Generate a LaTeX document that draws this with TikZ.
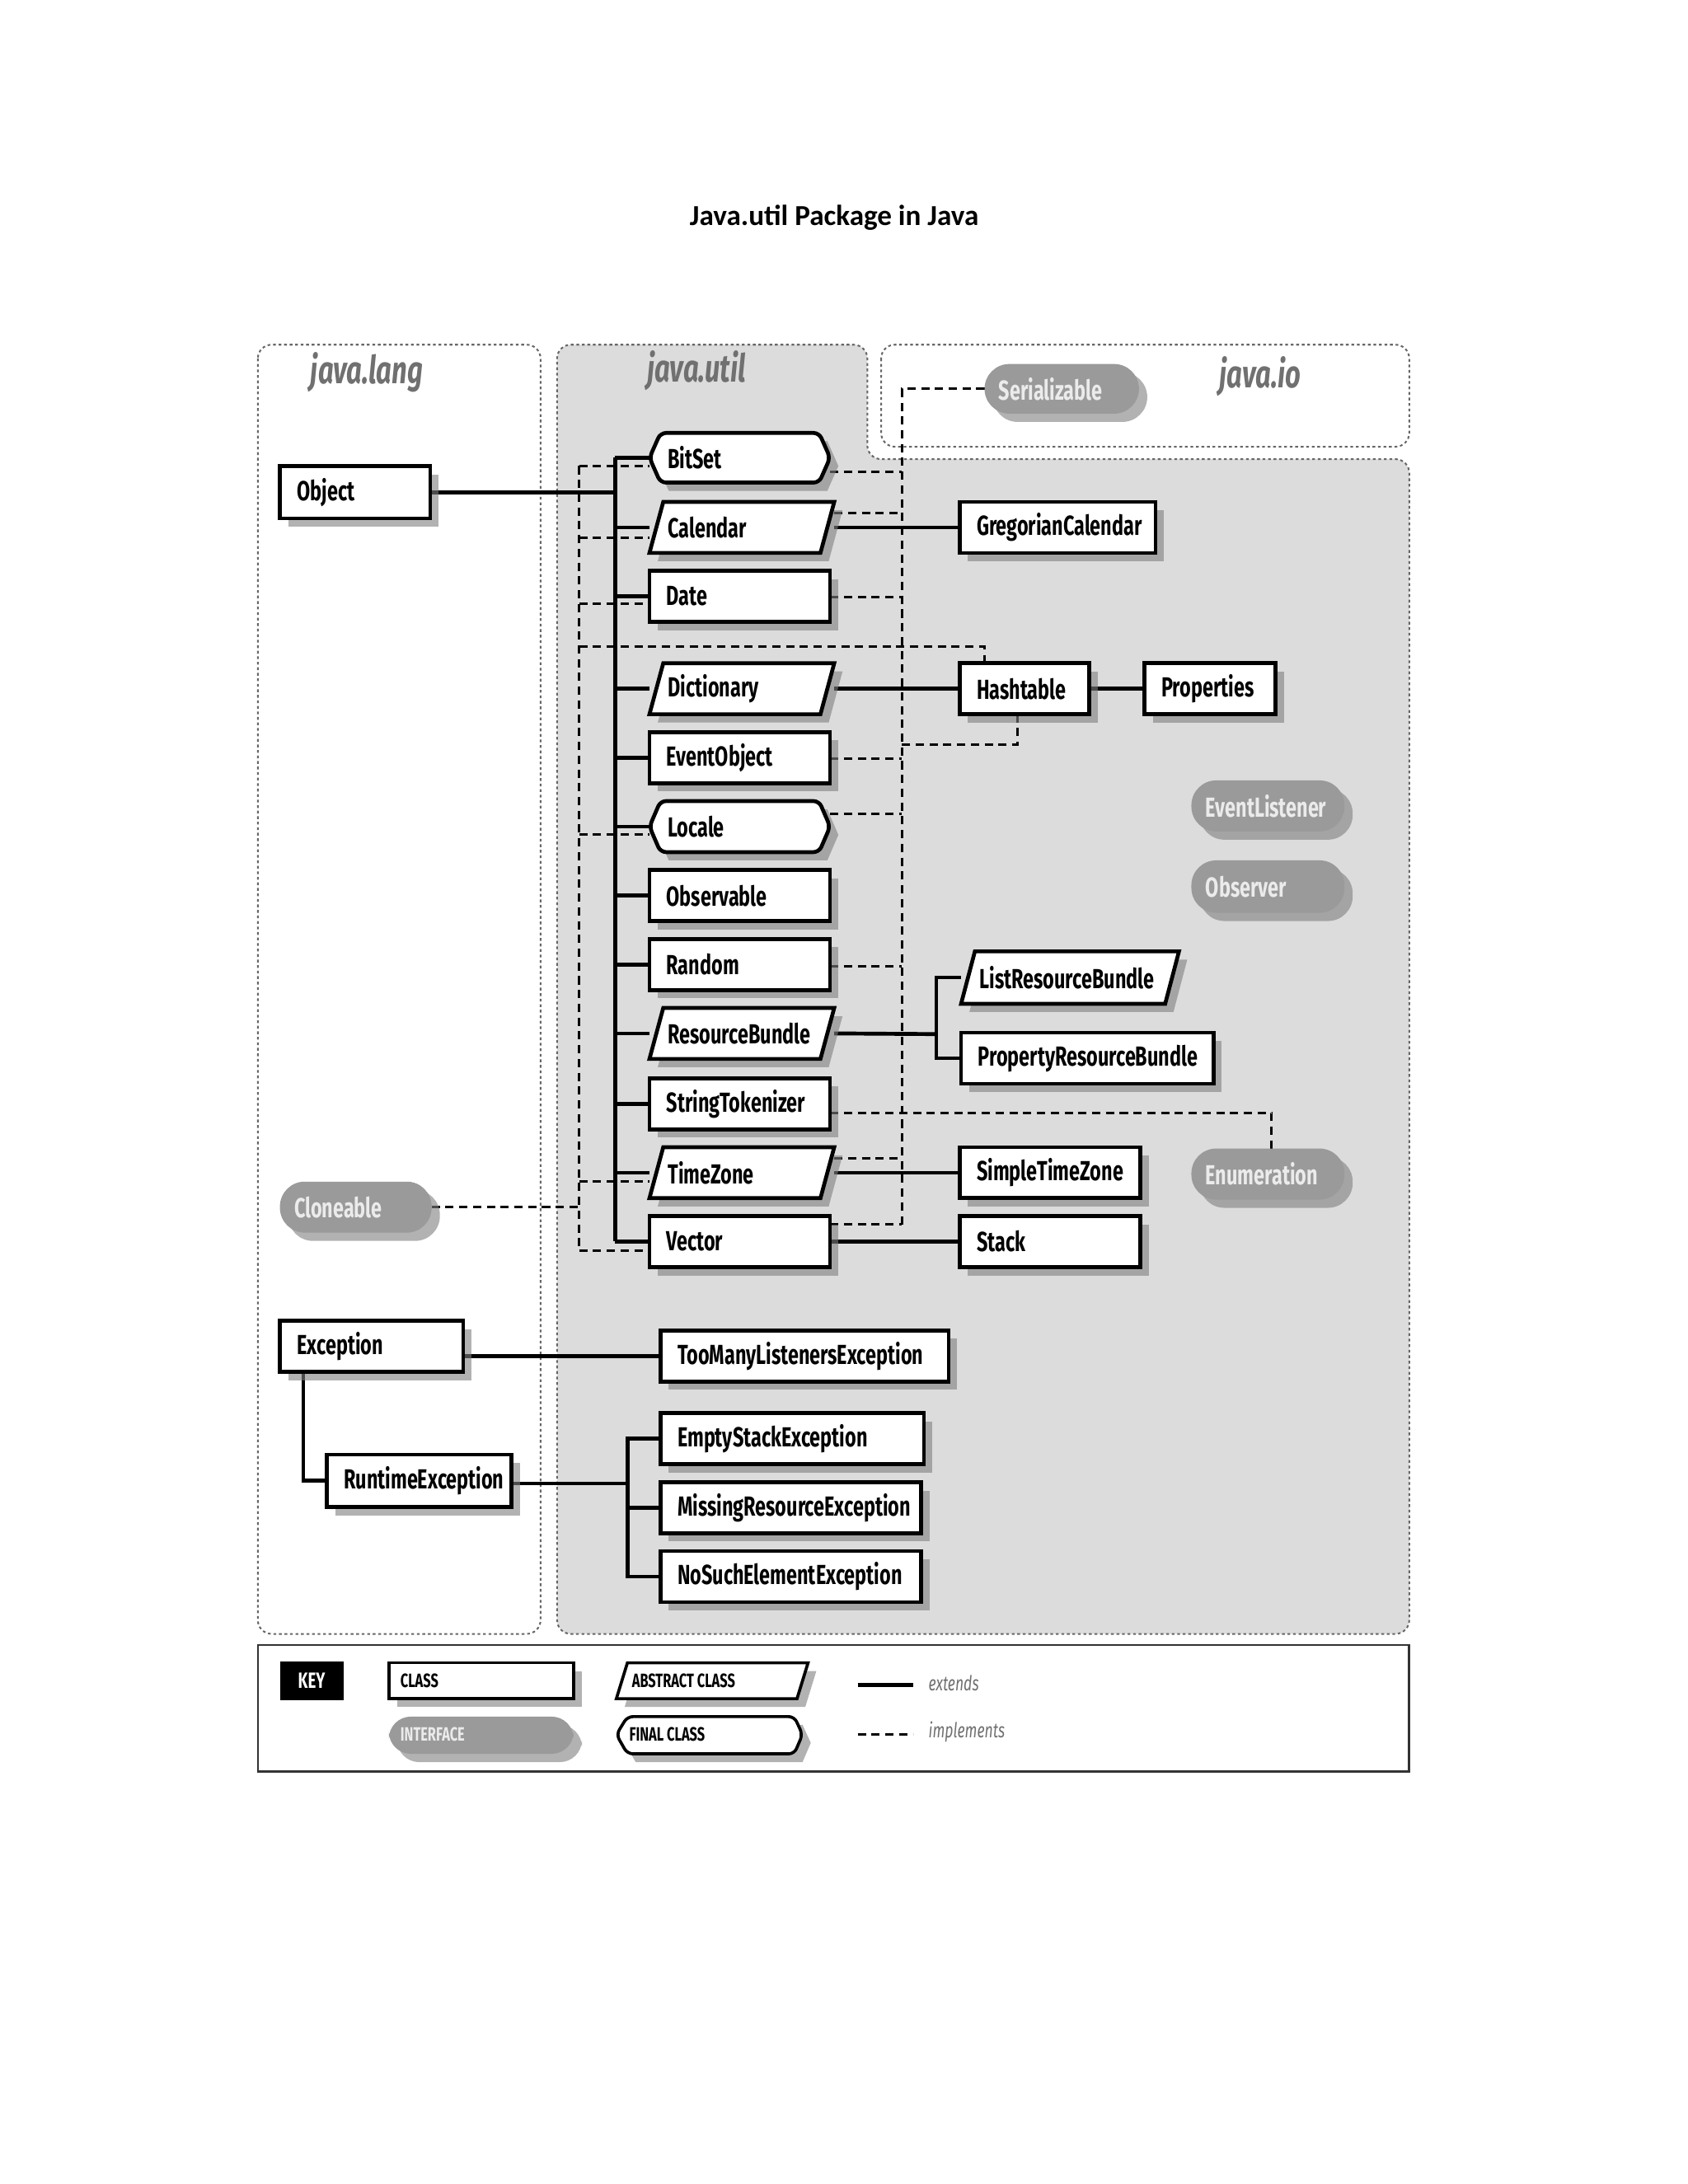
\documentclass[tikz,border=0pt]{standalone}
\usepackage{fontspec}
\newfontfamily\cfont[FakeStretch=0.70]{Fira Sans}
\newfontfamily\titlef{Carlito}
\usetikzlibrary{fit,calc}
\pgfdeclarelayer{panel}\pgfdeclarelayer{bg}
\pgfsetlayers{panel,bg,main}
\definecolor{panelc}{HTML}{DCDCDC}
\definecolor{intfc}{HTML}{9A9A9A}
\definecolor{labc}{HTML}{707070}
\tikzset{
 shadowc/.style={fill=black!50,opacity=0.6},
 boxline/.style={draw=black,line width=1.4pt,fill=white,line join=miter},
 intfline/.style={fill=intfc,rounded corners=9},
 btext/.style={anchor=west,inner sep=0,font=\cfont\bfseries\fontsize{10}{11}\selectfont},
 itext/.style={btext,text=white!92!black},
 ext/.style={line width=1.4pt},
 impl/.style={line width=0.9pt,dash pattern=on 3pt off 2pt},
 panelb/.style={draw=black!60,line width=0.6pt,dash pattern=on 1pt off 1pt},
 ptitle/.style={text=labc,font=\cfont\bfseries\itshape\fontsize{14}{15}\selectfont},
 ktext/.style={anchor=west,inner sep=0,font=\cfont\bfseries\fontsize{7}{8}\selectfont},
 kitext/.style={anchor=west,inner sep=0,text=labc,font=\cfont\itshape\fontsize{7.5}{8}\selectfont},
 nm/.style={inner sep=0,outer sep=0}
}
\newcommand\mkclass[6]{%
 \fill[shadowc] (#2+6,#3+6) rectangle (#4+6,#5+6);
 \draw[boxline] (#2,#3) rectangle (#4,#5);
 \node[nm,fit={(#2,#3) (#4,#5)}] (#1) {};
 \node[btext] at (#2+12,{(#3+#5)/2}) {#6};}
\newcommand\mkabs[6]{%
 \fill[shadowc] (#2+6,#5+6) -- (#2+16,#3+6) -- (#4+6,#3+6) -- (#4-4,#5+6) -- cycle;
 \draw[boxline] (#2,#5) -- (#2+10,#3) -- (#4,#3) -- (#4-10,#5) -- cycle;
 \node[nm,fit={(#2,#3) (#4,#5)}] (#1) {};
 \node[btext] at (#2+13,{(#3+#5)/2}) {#6};}
\newcommand\mkfinal[6]{%
 \fill[shadowc] (#2+14,#3+6) -- (#4-2,#3+6) -- (#4+6,{(#3+#5)/2+6}) -- (#4-2,#5+6) -- (#2+14,#5+6) -- (#2+6,{(#3+#5)/2+6}) -- cycle;
 \draw[boxline,rounded corners=2] (#2+8,#3) -- (#4-8,#3) -- (#4,{(#3+#5)/2}) -- (#4-8,#5) -- (#2+8,#5) -- (#2,{(#3+#5)/2}) -- cycle;
 \node[nm,fit={(#2,#3) (#4,#5)}] (#1) {};
 \node[btext] at (#2+13,{(#3+#5)/2}) {#6};}
\newcommand\mkintf[6]{%
 \fill[shadowc,rounded corners=9] (#2+6,#3+6) rectangle (#4+6,#5+6);
 \fill[intfline] (#2,#3) rectangle (#4,#5);
 \node[nm,fit={(#2,#3) (#4,#5)}] (#1) {};
 \node[itext] at (#2+10,{(#3+#5)/2}) {#6};}
\begin{document}
\begin{tikzpicture}[x=0.5pt,y=-0.5pt]
\useasboundingbox (0,0) rectangle (1224,1584);
\node[font=\titlef\bfseries\fontsize{10.5}{12}\selectfont] (title) at (605,158) {Java.util Package in Java};
% panels
\begin{pgfonlayer}{panel}
\fill[white] (0,0) rectangle (1224,1584);
\draw[panelb,rounded corners=5] (187,250) rectangle (392,1185);
\draw[panelb,fill=panelc,rounded corners=5] (404,250) -- (629,250) -- (629,333) -- (1022,333) -- (1022,1185) -- (404,1185) -- cycle;
\draw[panelb,rounded corners=5] (639,250) rectangle (1022,324);
\draw[line width=0.8pt,draw=black!80] (187,1193) rectangle (1022,1285);
\end{pgfonlayer}
\node[ptitle] (tlang) at (266,270) {java.lang};
\node[ptitle] (tutil) at (505,269) {java.util};
\node[ptitle] (tio) at (914,273) {java.io};
% nodes
\mkclass{Object}{203}{338}{312}{376}{Object}
\mkfinal{BitSet}{471}{314}{602}{350}{BitSet}
\mkabs{Calendar}{471}{364}{605}{401}{Calendar}
\mkclass{Date}{471}{414}{602}{451}{Date}
\mkabs{Dictionary}{471}{481}{605}{518}{Dictionary}
\mkclass{EventObject}{471}{531}{602}{568}{EventObject}
\mkfinal{Locale}{471}{581}{602}{618}{Locale}
\mkclass{Observable}{471}{631}{602}{668}{Observable}
\mkclass{Random}{471}{681}{602}{718}{Random}
\mkabs{ResourceBundle}{471}{731}{605}{768}{ResourceBundle}
\mkclass{StringTokenizer}{471}{782}{602}{819}{StringTokenizer}
\mkabs{TimeZone}{471}{832}{605}{869}{TimeZone}
\mkclass{Vector}{471}{882}{602}{919}{Vector}
\mkclass{Gregorian}{696}{364}{838}{401}{GregorianCalendar}
\mkclass{Hashtable}{696}{481}{790}{518}{Hashtable}
\mkclass{Properties}{830}{481}{925}{518}{Properties}
\mkintf{EventListener}{864}{566}{975}{603}{EventListener}
\mkintf{Observer}{864}{624}{975}{662}{Observer}
\mkabs{ListRB}{697}{690}{855}{728}{ListResourceBundle}
\mkclass{PropRB}{697}{749}{880}{786}{PropertyResourceBundle}
\mkclass{SimpleTZ}{696}{832}{827}{869}{SimpleTimeZone}
\mkclass{Stack}{696}{882}{827}{919}{Stack}
\mkintf{Enumeration}{864}{833}{975}{870}{Enumeration}
\mkintf{Serializable}{714}{264}{826}{300}{Serializable}
\mkintf{Cloneable}{203}{857}{313}{894}{Cloneable}
\mkclass{Exception}{203}{958}{336}{995}{Exception}
\mkclass{TooMany}{479}{965}{688}{1002}{TooManyListenersException}
\mkclass{Runtime}{237}{1055}{371}{1093}{RuntimeException}
\mkclass{EmptyStack}{479}{1025}{670}{1062}{EmptyStackException}
\mkclass{MissingRes}{479}{1075}{668}{1112}{MissingResourceException}
\mkclass{NoSuch}{479}{1125}{668}{1162}{NoSuchElementException}
% key
\node[fill=black,text=white,inner sep=0,minimum width=23pt,minimum height=14pt,font=\cfont\bfseries\fontsize{8}{9}\selectfont] (key) at (226,1219) {KEY};
\fill[shadowc] (288,1212) rectangle (422,1238);
\draw[boxline,line width=1.1pt] (282,1206) rectangle (416,1232);
\node[ktext] (kclass) at (290,1219) {CLASS};
\fill[shadowc,rounded corners=8] (288,1251) rectangle (422,1278);
\fill[intfline,rounded corners=8] (282,1245) rectangle (416,1272);
\node[ktext,text=white!92!black] (kintf) at (290,1258) {INTERFACE};
\fill[shadowc] (453,1238) -- (461,1212) -- (592,1212) -- (584,1238) -- cycle;
\draw[boxline,line width=1.1pt] (447,1232) -- (455,1206) -- (586,1206) -- (578,1232) -- cycle;
\node[ktext] (kabs) at (458,1219) {ABSTRACT CLASS};
\fill[shadowc] (461,1251) -- (582,1251) -- (588,1264) -- (582,1278) -- (461,1278) -- (453,1264) -- cycle;
\draw[boxline,line width=1.1pt,rounded corners=2] (455,1245) -- (576,1245) -- (582,1258) -- (576,1272) -- (455,1272) -- (447,1258) -- cycle;
\node[ktext] (kfinal) at (456,1258) {FINAL CLASS};
\coordinate (e1) at (622,1222); \coordinate (e2) at (662,1222);
\coordinate (i1) at (622,1258); \coordinate (i2) at (662,1258);
\node[kitext] (kext) at (673,1221) {extends};
\node[kitext] (kimp) at (673,1256) {implements};
\begin{pgfonlayer}{bg}
\draw[ext] (e1) -- (e2);
\draw[impl] (i1) -- (i2);
% extends tree
\coordinate (tt) at (446,332); \coordinate (tb) at (446,900);
\draw[ext] (tt) -- (tb);
\draw[ext] (Object.east |- 0,357) -- (tt |- 0,357);
\foreach \n in {BitSet,Calendar,Date,Dictionary,EventObject,Locale,Observable,Random,ResourceBundle,StringTokenizer,TimeZone,Vector}
  \draw[ext] (\n.west) -- (\n.west -| tt);
\draw[ext] (Calendar.east) -- (Gregorian.west);
\draw[ext] (Dictionary.east) -- (Hashtable.west);
\draw[ext] (Hashtable.east) -- (Properties.west);
\draw[ext] (TimeZone.east) -- (SimpleTZ.west);
\draw[ext] (Vector.east) -- (Stack.west);
\coordinate (rb) at (679,750);
\draw[ext] (ResourceBundle.east) -- (rb);
\draw[ext] (ListRB.west) -| (rb) |- (PropRB.west);
\draw[ext] (Exception.east |- TooMany.west) -- (TooMany.west);
\draw[ext] (Exception.south -| 220,0) |- (Runtime.west);
\coordinate (xb) at (455,1076);
\draw[ext] (Runtime.east |- xb) -- (xb);
\draw[ext] (EmptyStack.west) -| (xb) |- (NoSuch.west);
\draw[ext] (MissingRes.west) -- (MissingRes.west -| xb);
% implements Serializable
\coordinate (rs) at (654,282);
\draw[impl] (Serializable.west) -- (rs) -- (rs |- 0,888);
\foreach \n/\y in {BitSet/342,Calendar/372,Date/433,EventObject/550,Locale/590,Random/701,TimeZone/840,Vector/888}
  \draw[impl] (\n.east |- 0,\y) -- (rs |- 0,\y);
\draw[impl] (Hashtable.south -| 738,0) -- (738,540) -- (rs |- 0,540);
% implements Cloneable
\coordinate (ls) at (420,338);
\draw[impl] (ls) -- (ls |- 0,907);
\draw[impl] (Cloneable.east) -- (ls |- Cloneable.east);
\foreach \n/\y in {BitSet/338,Calendar/390,Date/438,Locale/605,TimeZone/857,Vector/907}
  \draw[impl] (ls |- 0,\y) -- (\n.west |- 0,\y);
\draw[impl] (ls |- 0,469) -- (714,469) -- (Hashtable.north -| 714,0);
% enumeration
\draw[impl] (StringTokenizer.east |- 0,807) -- (922,807) -- (Enumeration.north -| 922,0);
\end{pgfonlayer}
\end{tikzpicture}
\end{document}
